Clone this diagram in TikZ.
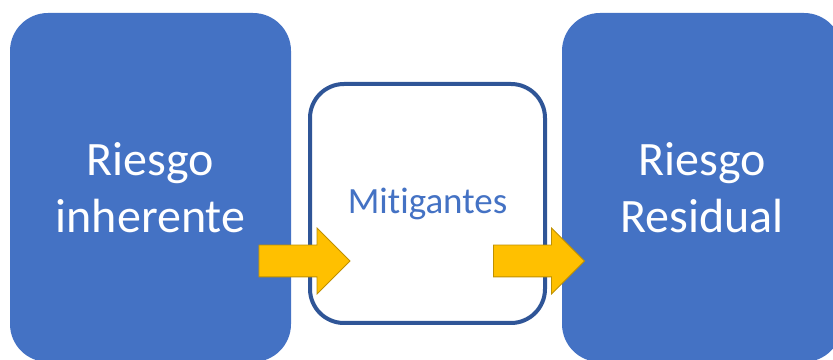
\documentclass[tikz,border=0pt]{standalone}
\usepackage{fontspec}
\setmainfont{Carlito}[Ligatures=NoCommon]
\usetikzlibrary{shapes.arrows}

\definecolor{boxblue}{HTML}{4472C4}
\definecolor{edgeblue}{HTML}{2F5597}
\definecolor{arrowgold}{HTML}{FFC000}
\definecolor{arrowedge}{HTML}{BF9000}

\begin{document}
\begin{tikzpicture}[x=1pt, y=1pt, line width = 0.6pt]
\tikzstyle{riskbox}=[rectangle, rounded corners=38pt, fill=boxblue, text=white,
  align=center, font=\fontsize{48}{57}\selectfont, minimum height=349pt];
\tikzstyle{mitbox}=[rectangle, rounded corners=34pt, draw=edgeblue, line width=4pt,
  fill=white, text=boxblue, font=\fontsize{37}{44}\selectfont,
  minimum width=235pt, minimum height=239pt];
\tikzstyle{flow}=[single arrow, single arrow head extend=17pt, single arrow tip angle=90,
  single arrow head indent=0pt, inner sep=0pt, inner ysep=15.5pt, minimum height=91pt,
  fill=arrowgold, draw=arrowedge, line width=0.8pt];

\useasboundingbox (0,0) rectangle (833,359);
\clip (0,0) rectangle (833,359);

\draw(150.5,171.5) node[riskbox, minimum width=281pt] (RI) {Riesgo\\inherente};
\draw(427.5,155.5) node[mitbox] (Mit) {Mitigantes};
\draw(702,171.5) node[riskbox, minimum width=280pt] (RR) {Riesgo\\Residual};

\draw(296.5,98) node[flow] (RItoMit) {};
\draw(531,98) node[flow] (MittoRR) {};
\end{tikzpicture}
\end{document}
